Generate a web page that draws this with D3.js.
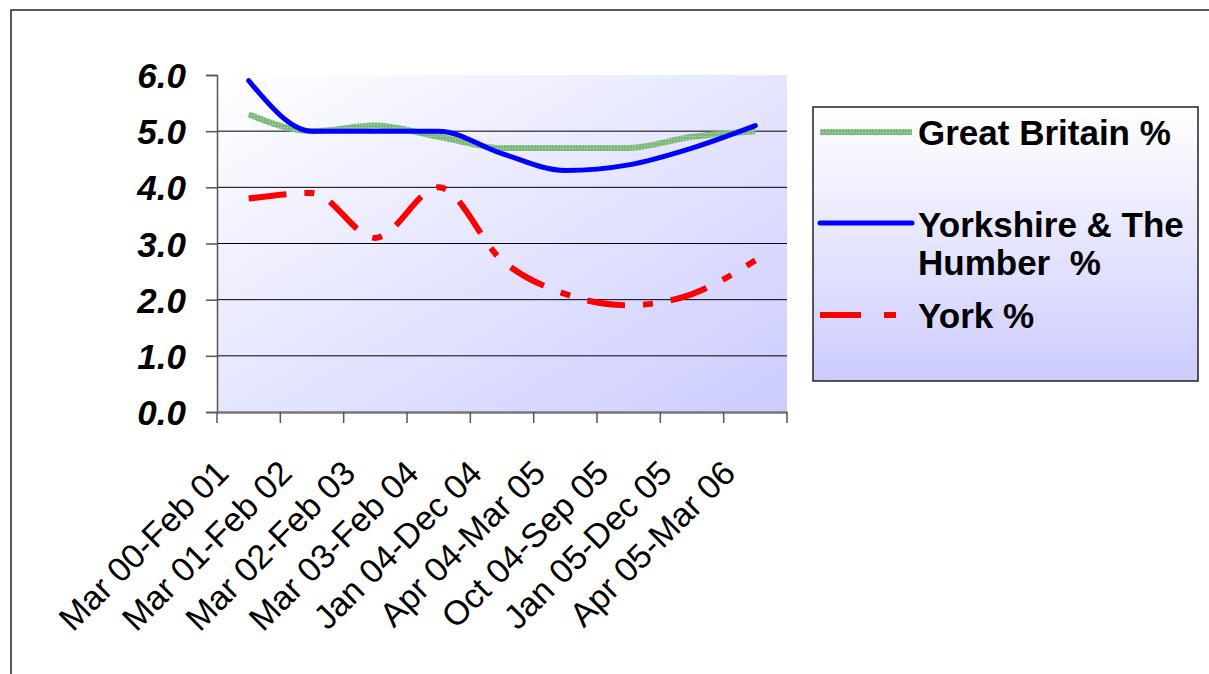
<!DOCTYPE html>
<html>
<head>
<meta charset="utf-8">
<script src="https://cdn.jsdelivr.net/npm/d3@7"></script>
<style>
  body { margin: 0; background: #fff; }
  svg { display: block; }
  .ylab { font-family: "Liberation Sans", Arial, sans-serif; font-weight: bold; font-style: italic; font-size: 35px; }
  .xlab { font-family: "Liberation Sans", Arial, sans-serif; font-size: 34px; }
  .leg { font-family: "Liberation Sans", Arial, sans-serif; font-weight: bold; font-size: 35px; }
</style>
</head>
<body>
<div id="chart"></div>
<script>
// periods along the x axis
const periods = ["Mar 00-Feb 01", "Mar 01-Feb 02", "Mar 02-Feb 03", "Mar 03-Feb 04",
    "Jan 04-Dec 04", "Apr 04-Mar 05", "Oct 04-Sep 05", "Jan 05-Dec 05", "Apr 05-Mar 06"];

const greatBritain = [5.3, 5.0, 5.1, 4.9, 4.7, 4.7, 4.7, 4.9, 5.0];
const yorkshire = [5.9, 5.0, 5.0, 5.0, 4.6, 4.3, 4.4, 4.7, 5.1];
const york = [3.8, 3.9, 3.1, 4.0, 2.7, 2.1, 1.9, 2.1, 2.7];

const yTicks = [0, 1, 2, 3, 4, 5, 6];

const seriesNames = ["Great Britain %", "Yorkshire & The|Humber  %", "York %"];

const W = 1209, H = 674;
const margin = {top: 75, left: 217, right: 422, bottom: 262};
const width = W - margin.left - margin.right;
const height = H - margin.top - margin.bottom;

const svg = d3.select("#chart").append("svg")
    .attr("width", W)
    .attr("height", H);

const defs = svg.append("defs");

const plotGrad = defs.append("linearGradient")
    .attr("id", "plotGrad")
    .attr("x1", "0%").attr("y1", "0%").attr("x2", "100%").attr("y2", "100%");
plotGrad.append("stop").attr("offset", "0%").attr("stop-color", "#ffffff");
plotGrad.append("stop").attr("offset", "100%").attr("stop-color", "#ccccff");

const legGrad = defs.append("linearGradient")
    .attr("id", "legGrad")
    .attr("x1", "0%").attr("y1", "0%").attr("x2", "0%").attr("y2", "100%");
legGrad.append("stop").attr("offset", "0%").attr("stop-color", "#ffffff");
legGrad.append("stop").attr("offset", "100%").attr("stop-color", "#ccccff");

// speckled green texture for the GB line
const pat = defs.append("pattern")
    .attr("id", "greenTex")
    .attr("patternUnits", "userSpaceOnUse")
    .attr("width", 3).attr("height", 3);
pat.append("rect").attr("width", 3).attr("height", 3).attr("fill", "#7cbb7c");
pat.append("rect").attr("x", 1).attr("y", 1).attr("width", 1).attr("height", 1).attr("fill", "#b8dcb8");

// outer chart border (runs off right and bottom)
svg.append("rect")
    .attr("x", 11).attr("y", 10)
    .attr("width", 1400).attr("height", 800)
    .attr("fill", "none")
    .attr("stroke", "#222")
    .attr("stroke-width", 1.5);

const g = svg.append("g")
    .attr("transform", "translate(" + margin.left + "," + margin.top + ")");

const x = d3.scaleBand()
    .domain(periods)
    .range([0, width]);

const y = d3.scaleLinear()
    .domain([0, 6])
    .range([height, 0]);

g.append("rect")
    .attr("width", width)
    .attr("height", height)
    .attr("fill", "url(#plotGrad)");

// gridlines
g.selectAll(".grid")
    .data(yTicks.filter(d => d > 0 && d < 6))
    .enter().append("line")
    .attr("class", "grid")
    .attr("x1", 0).attr("x2", width)
    .attr("y1", d => y(d)).attr("y2", d => y(d))
    .attr("stroke", "#000")
    .attr("stroke-width", 1);

// y axis
const yAxis = g.append("g")
    .call(d3.axisLeft(y).tickValues(yTicks).tickFormat(d3.format(".1f")).tickSize(11).tickPadding(20));
yAxis.select(".domain").attr("stroke", "#555").attr("stroke-width", 1.5);
yAxis.selectAll(".tick line").attr("stroke", "#555").attr("stroke-width", 1.5);
yAxis.selectAll("text").attr("class", "ylab").attr("fill", "#000").attr("dy", "0.36em");

// x axis
const xAxis = g.append("g")
    .attr("transform", "translate(0," + height + ")")
    .call(d3.axisBottom(x).tickSize(0).tickFormat(""));
xAxis.select(".domain").attr("stroke", "#777").attr("stroke-width", 2.5);

const bounds = periods.map(p => x(p)).concat([width]);
xAxis.selectAll(".xtick")
    .data(bounds)
    .enter().append("line")
    .attr("class", "xtick")
    .attr("x1", d => d).attr("x2", d => d)
    .attr("y1", 0).attr("y2", 11)
    .attr("stroke", "#555")
    .attr("stroke-width", 1.5);

xAxis.selectAll(".xlab")
    .data(periods)
    .enter().append("text")
    .attr("class", "xlab")
    .attr("fill", "#000")
    .attr("text-anchor", "end")
    .attr("transform", d => "translate(" + (x(d) + x.bandwidth() / 2 - 18) + ",63) rotate(-45)")
    .text(d => d);

const line = d3.line()
    .x((d, i) => x(periods[i]) + x.bandwidth() / 2)
    .y(d => y(d))
    .curve(d3.curveMonotoneX);

g.append("path")
    .datum(greatBritain)
    .attr("fill", "none")
    .attr("stroke", "url(#greenTex)")
    .attr("stroke-width", 6)
    .attr("d", line);

g.append("path")
    .datum(yorkshire)
    .attr("fill", "none")
    .attr("stroke", "#0000ff")
    .attr("stroke-width", 5)
    .attr("stroke-linecap", "round")
    .attr("d", line);

g.append("path")
    .datum(york)
    .attr("fill", "none")
    .attr("stroke", "#ff0000")
    .attr("stroke-width", 6)
    .attr("stroke-dasharray", "38,18,10,18")
    .attr("d", line);

// legend
const legend = svg.append("g").attr("transform", "translate(813,107)");
legend.append("rect")
    .attr("width", 385).attr("height", 274)
    .attr("fill", "url(#legGrad)")
    .attr("stroke", "#222")
    .attr("stroke-width", 1.5);

const legItems = [
    {name: seriesNames[0], ly: 25, ty: 38, stroke: "url(#greenTex)", w: 6, dash: null, cap: "butt"},
    {name: seriesNames[1], ly: 116, ty: 130, stroke: "#0000ff", w: 5, dash: null, cap: "round"},
    {name: seriesNames[2], ly: 208, ty: 221, stroke: "#ff0000", w: 6, dash: "41,23,12,30", cap: "butt"}
];

legItems.forEach(item => {
    legend.append("line")
        .attr("x1", 7).attr("x2", 99)
        .attr("y1", item.ly).attr("y2", item.ly)
        .attr("stroke", item.stroke)
        .attr("stroke-width", item.w)
        .attr("stroke-linecap", item.cap)
        .attr("stroke-dasharray", item.dash);
    const t = legend.append("text")
        .attr("class", "leg")
        .attr("x", 105)
        .attr("y", item.ty);
    item.name.split("|").forEach((part, i) => {
        t.append("tspan")
            .attr("x", 105)
            .attr("dy", i === 0 ? 0 : 38)
            .style("white-space", "pre")
            .text(part);
    });
});
</script>
</body>
</html>
